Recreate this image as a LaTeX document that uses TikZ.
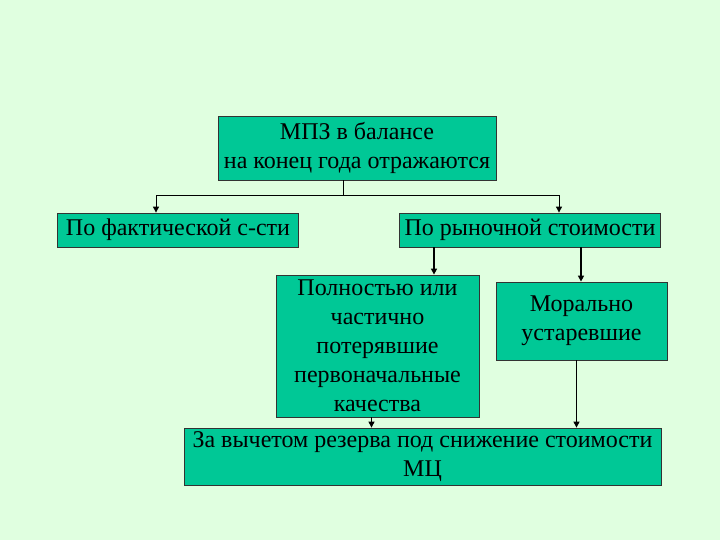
\documentclass[tikz,border=0pt]{standalone}
\usepackage{fontspec}
\setmainfont{Liberation Serif}
\usepackage{xcolor}
\usetikzlibrary{positioning, arrows.meta, calc}
\definecolor{bgGreen}{RGB}{224, 255, 224}
\definecolor{boxTeal}{RGB}{0, 200, 150}

\begin{document}
\begin{tikzpicture}[
    x=1pt, y=-1pt,
    font=\fontsize{24}{29}\selectfont,
    blk/.style={rectangle, draw=black!80, line width=0.8pt, fill=boxTeal,
        align=center, inner sep=0pt},
    ln/.style={line width=1pt, black},
    arr/.style={-{Triangle[length=6pt, width=6pt]}, line width=1pt, black},
    tharr/.style={-{Triangle[length=6pt, width=6pt]}, line width=2.2pt, black}
]
\fill[bgGreen] (0,0) rectangle (720,540);
\useasboundingbox (0,0) rectangle (720,540);

\node[blk, minimum width=278pt, minimum height=64pt] (top)   at (357,148)   {МПЗ в балансе\\на конец года отражаются};
\node[blk, minimum width=241pt, minimum height=34pt] (fact)  at (178,230)   {По фактической с-сти};
\node[blk, minimum width=261pt, minimum height=34pt] (market) at (530,230)  {По рыночной стоимости};
\node[blk, minimum width=203pt, minimum height=142pt] (lost)  at (377.5,346) {Полностью или\\частично\\потерявшие\\первоначальные\\качества};
\node[blk, minimum width=171pt, minimum height=78pt] (moral) at (581.5,321) {Морально\\устаревшие};
\node[blk, minimum width=477pt, minimum height=57pt] (net)   at (422.5,456.5) {За вычетом резерва под снижение стоимости\\МЦ};

% fork under the top box
\coordinate (fk) at (343,196);
\draw[ln] (top.south -| fk) -- (fk);
\draw[arr] (fk) -| ([xshift=-22pt]fact.north);
\draw[arr] (fk) -| ([xshift=29pt]market.north);

% market value branches
\draw[tharr] ([xshift=-96pt]market.south) -- ([xshift=-96pt]market.south |- lost.north);
\draw[tharr] ([xshift=51pt]market.south) -- ([xshift=51pt]market.south |- moral.north);

\foreach \a/\s in {lost/-6, moral/-5}
    \draw[arr] ([xshift=\s pt]\a.south) -- ([xshift=\s pt]\a.south |- net.north);
\end{tikzpicture}
\end{document}
